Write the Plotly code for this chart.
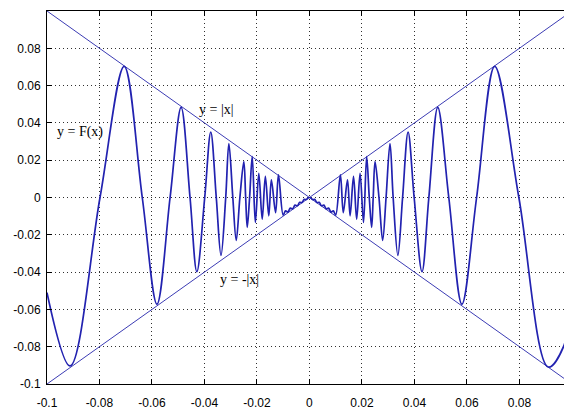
import plotly.graph_objects as go

# ---- data ----
# y = F(x), left half (x <= 0)
left_x = [-0.1000, -0.0912, -0.0798, -0.0706, -0.0637, -0.0581, -0.0531, -0.0489,
          -0.0455, -0.0429, -0.0399, -0.0376, -0.0355, -0.0337, -0.0319, -0.0307,
          -0.0292, -0.0279, -0.0265, -0.0250, -0.0243, -0.0237, -0.0228, -0.0218,
          -0.0206, -0.0193, -0.0180, -0.0168, -0.0155, -0.0145, -0.0129, -0.0118,
          -0.0100, -0.0091, -0.0082, -0.0073, -0.0064, -0.0055, -0.0046, -0.0037,
          -0.0028, -0.0020, -0.0012, -0.0006, 0.0000]
left_y = [-0.0510, -0.0903, 0.0000, 0.0703, 0.0000, -0.0572, 0.0000, 0.0483,
          0.0000, -0.0398, 0.0000, 0.0351, 0.0000, -0.0310, 0.0000, 0.0289,
          0.0000, -0.0230, 0.0000, 0.0192, 0.0000, -0.0160, 0.0000, 0.0219,
          -0.0134, 0.0130, -0.0116, 0.0113, -0.0098, 0.0095, -0.0081, 0.0122,
          -0.0095, -0.0072, -0.0078, -0.0057, -0.0061, -0.0041, -0.0044, -0.0026,
          -0.0027, -0.0010, -0.0011, -0.0002, 0.0000]
# y = F(x), right half (x >= 0)
right_x = [0.0006, 0.0012, 0.0020, 0.0028, 0.0037, 0.0046, 0.0055, 0.0064,
           0.0073, 0.0082, 0.0091, 0.0100, 0.0118, 0.0129, 0.0145, 0.0155,
           0.0168, 0.0180, 0.0193, 0.0206, 0.0218, 0.0228, 0.0237, 0.0243,
           0.0250, 0.0265, 0.0279, 0.0292, 0.0307, 0.0319, 0.0337, 0.0355,
           0.0376, 0.0399, 0.0429, 0.0455, 0.0489, 0.0531, 0.0581, 0.0637,
           0.0706, 0.0798, 0.0910, 0.0968, 0.1000]
right_y = [-0.0002, -0.0011, -0.0010, -0.0027, -0.0026, -0.0044, -0.0041, -0.0061,
           -0.0057, -0.0078, -0.0072, -0.0095, 0.0122, -0.0081, 0.0095, -0.0098,
           0.0113, -0.0116, 0.0130, -0.0134, 0.0219, 0.0000, -0.0160, 0.0000,
           0.0192, 0.0000, -0.0230, 0.0000, 0.0289, 0.0000, -0.0310, 0.0000,
           0.0351, 0.0000, -0.0398, 0.0000, 0.0483, 0.0000, -0.0572, 0.0000,
           0.0703, 0.0000, -0.0909, -0.0800, -0.0510]

# envelope lines y = |x| and y = -|x|
env_x = [-0.1, 0.0, 0.1]
env_up = [0.1, 0.0, 0.1]
env_dn = [-0.1, 0.0, -0.1]

x_ticks = [-0.1, -0.08, -0.06, -0.04, -0.02, 0.0, 0.02, 0.04, 0.06, 0.08]
x_tick_labels = ["-0.1", "-0.08", "-0.06", "-0.04", "-0.02", "0", "0.02", "0.04", "0.06", "0.08"]
y_ticks = [-0.1, -0.08, -0.06, -0.04, -0.02, 0.0, 0.02, 0.04, 0.06, 0.08]
y_tick_labels = ["-0.1", "-0.08", "-0.06", "-0.04", "-0.02", "0", "0.02", "0.04", "0.06", "0.08"]

labels = ["y = |x|", "y = F(x)", "y = -|x|"]
label_x = [-0.0428, -0.0969, -0.0347]
label_y = [0.0470, 0.0350, -0.0437]

# ---- figure ----
curve_x = left_x + right_x
curve_y = left_y + right_y

fig = go.Figure()
fig.add_trace(go.Scatter(x=env_x, y=env_up, mode="lines",
                         line=dict(color="#3c3cb4", width=1), hoverinfo="skip"))
fig.add_trace(go.Scatter(x=env_x, y=env_dn, mode="lines",
                         line=dict(color="#3c3cb4", width=1), hoverinfo="skip"))
fig.add_trace(go.Scatter(x=curve_x, y=curve_y, mode="lines",
                         line=dict(color="#2222b0", width=1.7, shape="spline", smoothing=1.0)))

for t, ax_, ay_ in zip(labels, label_x, label_y):
    fig.add_annotation(x=ax_, y=ay_, text=t, showarrow=False, xanchor="left", yanchor="middle",
                       font=dict(family="Liberation Serif", size=14, color="black"))

axis_common = dict(
    showline=True, linecolor="black", linewidth=1,
    ticks="inside", ticklen=5, tickcolor="black", tickwidth=1,
    showgrid=True, gridcolor="#303030", gridwidth=1, griddash="1px,3px",
    zeroline=False,
    tickfont=dict(family="Liberation Sans", size=12, color="black"),
)

fig.update_xaxes(range=[-0.1, 0.097], tickvals=x_ticks, ticktext=x_tick_labels,
                 mirror="ticks", ticklabelstandoff=8, **axis_common)
fig.update_yaxes(range=[-0.1, 0.1], tickvals=y_ticks, ticktext=y_tick_labels,
                 mirror=False, ticklabelstandoff=3, **axis_common)

fig.update_layout(
    width=564, height=410,
    margin=dict(l=47, r=0, t=11, b=21),
    plot_bgcolor="white", paper_bgcolor="white",
    showlegend=False,
)

fig.write_html("out.html", config={"displayModeBar": False},
               post_script="document.body.style.margin='0';document.body.style.overflow='hidden';")
